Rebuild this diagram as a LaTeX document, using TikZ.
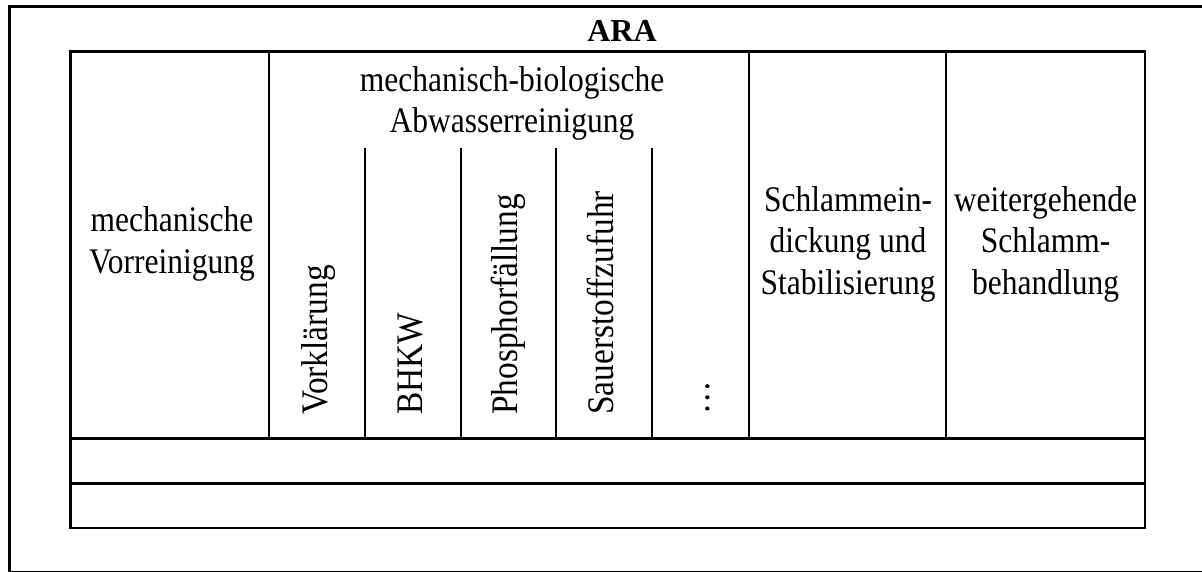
\documentclass[tikz,border=0pt]{standalone}
\usepackage{fontspec}
\setmainfont[FakeStretch=0.875]{Liberation Serif}
\newfontfamily\titlefont{Liberation Serif}
\newfontfamily\rotfont[FakeStretch=0.89]{Liberation Serif}
\begin{document}
\begin{tikzpicture}[x=1pt,y=-1pt,
  frame/.style={line width=3pt},
  grid/.style={line width=2.8pt},
  lbl/.style={font=\fontsize{36pt}{41.5pt}\selectfont, inner sep=0pt, align=center, anchor=base},
  rot/.style={font=\rotfont\fontsize{37.5pt}{41.5pt}\selectfont, inner sep=0pt, rotate=90, anchor=base west},
  ttl/.style={font=\titlefont\bfseries\fontsize{32pt}{38pt}\selectfont, inner sep=0pt, anchor=base}]
\useasboundingbox (0,0) rectangle (1202,572);
% outer frame
\draw[frame] (1210,7) -- (9,7) -- (9,571.5);
\draw[line width=1.2pt] (9,571.5) -- (1210,571.5);
% table
\draw[grid] (70.5,51.5) rectangle (1145,528);
\draw[grid] (70.5,438.5) -- (1145,438.5);
\draw[grid] (70.5,483.5) -- (1145,483.5);
\foreach \x in {269,749,946} \draw[grid] (\x,51.5) -- (\x,438.5);
\foreach \x in {365,461,556,652} \draw[grid] (\x,148) -- (\x,438.5);
% texts (base anchor = baseline of last line)
\node[ttl] (ara) at (622,42) {ARA};
\node[lbl] (mv) at (172,273.2) {mechanische\\Vorreinigung};
\node[lbl] (mb) at (512,133) {mechanisch-biologische\\Abwasserreinigung};
\node[lbl] (se) at (848,294) {Schlammein-\\dickung und\\Stabilisierung};
\node[lbl] (wb) at (1045.5,294) {weitergehende\\Schlamm-\\behandlung};
\node[rot] (vk) at (327,415) {Vorklärung};
\node[rot] (bh) at (422,415) {BHKW};
\node[rot] (pf) at (517,415) {Phosphorfällung};
\node[rot] (sz) at (613,415) {Sauerstoffzufuhr};
\node[rot] (dots) at (709,415) {…};
\end{tikzpicture}
\end{document}
